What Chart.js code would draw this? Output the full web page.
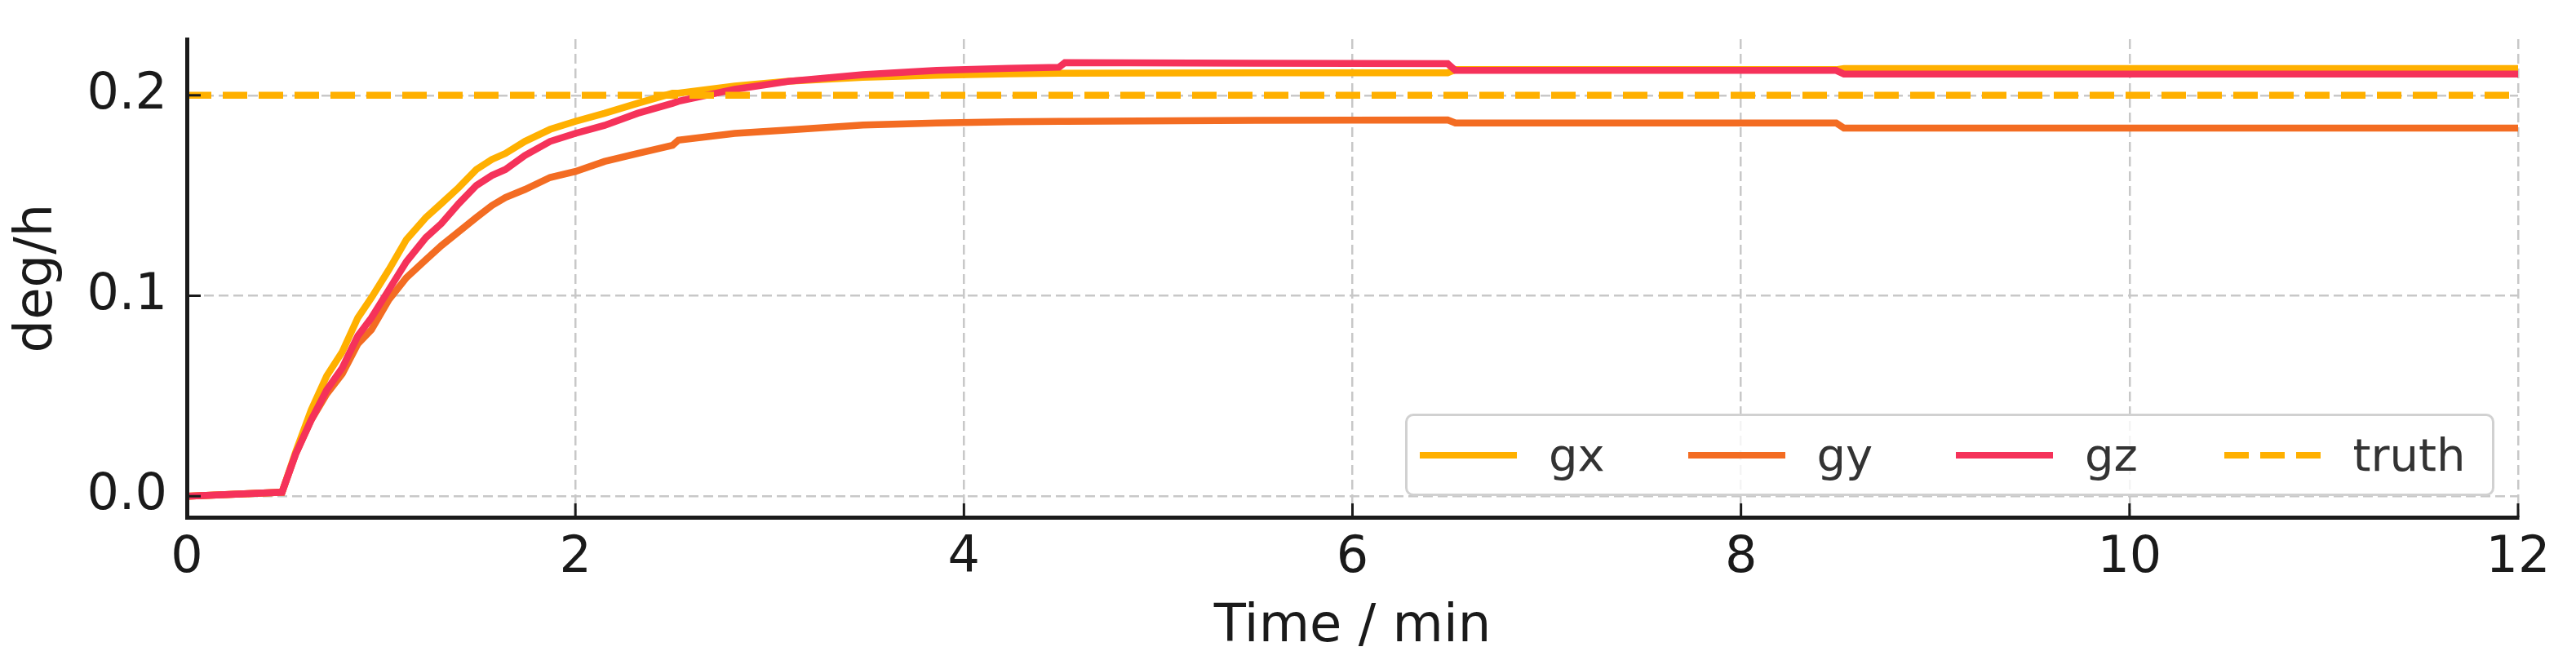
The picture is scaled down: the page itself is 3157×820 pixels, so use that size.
<!DOCTYPE html>
<html>
<head>
<meta charset="utf-8">
<script src="https://cdn.jsdelivr.net/npm/chart.js@4"></script>
<style>
  body { margin: 0; background: #fff; }
  #wrap { position: relative; width: 3157px; height: 820px; }
  #legend {
    position: absolute; left: 1722px; top: 507px; width: 1335px; height: 101px;
    box-sizing: border-box; border: 3px solid rgba(204,204,204,0.9); border-radius: 10px;
    background: rgba(255,255,255,0.8); display: flex; align-items: center; padding-left: 15px;
    font-family: 'DejaVu Sans', sans-serif; font-size: 56px; color: #333;
  }
  .item { display: flex; align-items: center; width: 334px; }
  .item svg { margin-right: 39px; }
</style>
</head>
<body>
<div id="wrap">
  <canvas id="chart" width="3157" height="820"></canvas>
  <div id="legend"></div>
</div>
<script>
// Time axis (minutes) and gyro bias estimates (deg/h)
const timeMin = [0, 0.49, 0.56, 0.64, 0.72, 0.80, 0.88, 0.95, 1.04, 1.13, 1.23, 1.31, 1.40, 1.49, 1.57, 1.64, 1.74, 1.87, 2.00, 2.15, 2.32, 2.50, 2.53, 2.82, 3.10, 3.48, 3.86, 4.23, 4.49, 4.52, 5.50, 6.49, 6.53, 8.49, 8.53, 12];
const gxValues = [0.0, 0.002, 0.022, 0.043, 0.060, 0.072, 0.089, 0.099, 0.113, 0.128, 0.139, 0.146, 0.154, 0.163, 0.168, 0.171, 0.177, 0.183, 0.187, 0.191, 0.196, 0.201, 0.201, 0.2046, 0.207, 0.209, 0.210, 0.2107, 0.211, 0.211, 0.2112, 0.2112, 0.2128, 0.2128, 0.2133, 0.2133];
const gyValues = [0.0, 0.002, 0.021, 0.038, 0.051, 0.061, 0.076, 0.083, 0.098, 0.109, 0.118, 0.125, 0.132, 0.139, 0.145, 0.149, 0.153, 0.159, 0.162, 0.167, 0.171, 0.175, 0.1776, 0.181, 0.1827, 0.1852, 0.1862, 0.1868, 0.187, 0.187, 0.1875, 0.1877, 0.1862, 0.1862, 0.1836, 0.1836];
const gzValues = [0.0, 0.002, 0.021, 0.038, 0.053, 0.064, 0.080, 0.089, 0.103, 0.117, 0.129, 0.136, 0.146, 0.155, 0.160, 0.163, 0.170, 0.177, 0.181, 0.185, 0.191, 0.196, 0.197, 0.203, 0.207, 0.2103, 0.2124, 0.2134, 0.214, 0.2163, 0.216, 0.2158, 0.2124, 0.2124, 0.2106, 0.2106];
const truthTime = [0, 12];
const truthValues = [0.2, 0.2];

const seriesNames = ['gx', 'gy', 'gz', 'truth'];
const seriesColors = ['#FFB000', '#F36C22', '#F5325A', '#FFB000'];
const xTickValues = [0, 2, 4, 6, 8, 10, 12];
const yTickValues = [0.0, 0.1, 0.2];

const toPoints = (xs, ys) => xs.map((x, i) => ({ x: x, y: ys[i] }));

const inkColor = '#1a1a1a';
const gridColor = '#c8c8c8';

// matplotlib style ticks pointing into the plot
const inwardTicks = {
  id: 'inwardTicks',
  afterDraw(chart) {
    const { ctx, chartArea, scales } = chart;
    ctx.save();
    ctx.strokeStyle = inkColor;
    ctx.lineWidth = 3;
    scales.x.ticks.forEach(t => {
      const px = scales.x.getPixelForValue(t.value);
      ctx.beginPath();
      ctx.moveTo(px, chartArea.bottom);
      ctx.lineTo(px, chartArea.bottom - 17);
      ctx.stroke();
    });
    scales.y.ticks.forEach(t => {
      const py = scales.y.getPixelForValue(t.value);
      ctx.beginPath();
      ctx.moveTo(chartArea.left, py);
      ctx.lineTo(chartArea.left + 17, py);
      ctx.stroke();
    });
    ctx.restore();
  }
};

const ctx = document.getElementById('chart').getContext('2d');
const chart = new Chart(ctx, {
  type: 'line',
  data: {
    datasets: [
      { label: seriesNames[0], data: toPoints(timeMin, gxValues), borderColor: seriesColors[0], order: 3 },
      { label: seriesNames[1], data: toPoints(timeMin, gyValues), borderColor: seriesColors[1], order: 2 },
      { label: seriesNames[2], data: toPoints(timeMin, gzValues), borderColor: seriesColors[2], order: 1 },
      { label: seriesNames[3], data: toPoints(truthTime, truthValues), borderColor: seriesColors[3], borderDash: [30, 14], order: 0 }
    ]
  },
  options: {
    responsive: false,
    animation: false,
    devicePixelRatio: 1,
    layout: { padding: { left: 0, right: 71, top: 48, bottom: 0 } },
    elements: {
      line: { borderWidth: 8.5, tension: 0, fill: false, borderCapStyle: 'butt' },
      point: { radius: 0 }
    },
    plugins: { legend: { display: false }, tooltip: { enabled: false } },
    scales: {
      x: {
        type: 'linear', min: 0, max: 12,
        afterFit: s => { s.height = 186; },
        afterBuildTicks: s => { s.ticks = xTickValues.map(v => ({ value: v })); },
        grid: { color: gridColor, lineWidth: 2.5, drawTicks: false },
        border: { display: true, color: inkColor, width: 5, dash: [12, 6], z: 1 },
        ticks: { color: inkColor, padding: 14, font: { family: 'DejaVu Sans', size: 62 }, maxRotation: 0 },
        title: { display: true, text: 'Time / min', color: inkColor, font: { family: 'DejaVu Sans', size: 64 }, padding: { top: 0, bottom: 12 } }
      },
      y: {
        type: 'linear', min: -0.0105, max: 0.228,
        afterFit: s => { s.width = 229; s.paddingTop = 0; },
        afterBuildTicks: s => { s.ticks = yTickValues.map(v => ({ value: v })); },
        grid: { color: gridColor, lineWidth: 2.5, drawTicks: false },
        border: { display: true, color: inkColor, width: 5, dash: [12, 6], z: 1 },
        ticks: { color: inkColor, padding: 24, font: { family: 'DejaVu Sans', size: 62 }, callback: v => v.toFixed(1) },
        title: { display: true, text: 'deg/h', color: inkColor, font: { family: 'DejaVu Sans', size: 64 }, padding: { top: 8, bottom: 0 } }
      }
    }
  },
  plugins: [inwardTicks]
});

// legend drawn as html, boxed inside the plot area
const legend = document.getElementById('legend');
chart.data.datasets.forEach(ds => {
  const item = document.createElement('div');
  item.className = 'item';
  const dash = ds.borderDash ? ' stroke-dasharray="30 14"' : '';
  item.innerHTML = '<svg width="119" height="10"><line x1="0" y1="5" x2="119" y2="5" stroke="' + ds.borderColor + '" stroke-width="8"' + dash + '/></svg><span>' + ds.label + '</span>';
  legend.appendChild(item);
});
</script>
</body>
</html>
